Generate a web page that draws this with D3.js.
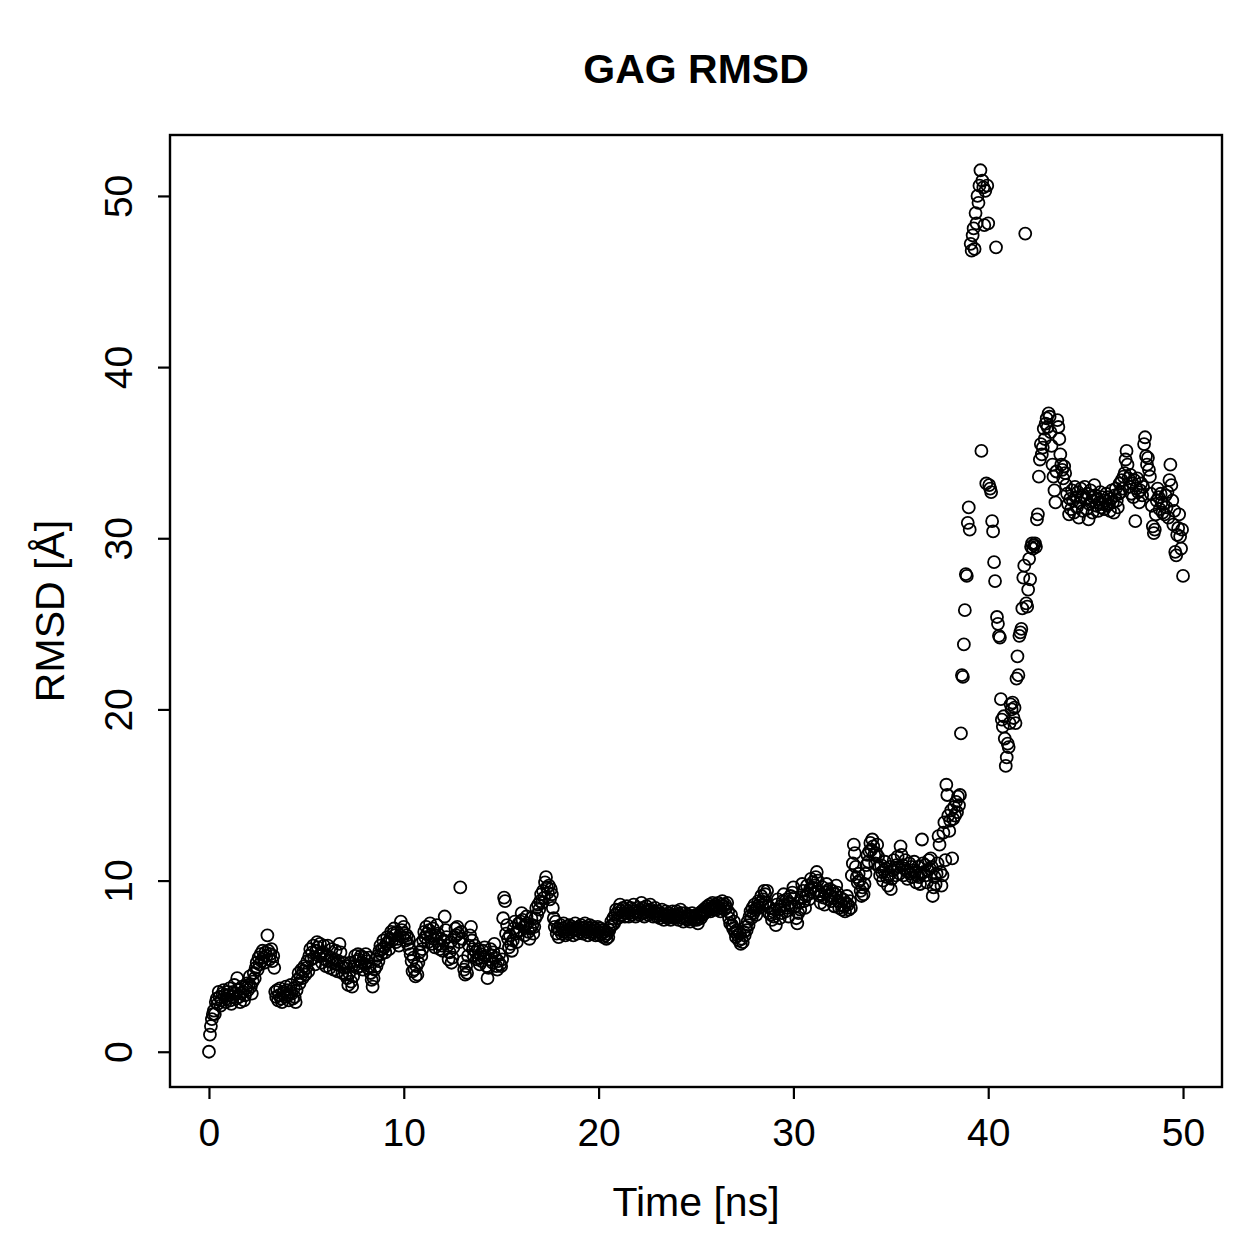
<!DOCTYPE html>
<html>
<head>
<meta charset="utf-8">
<script src="https://cdn.jsdelivr.net/npm/d3@7"></script>
<style>
  body { margin: 0; background: #fff; }
  text { font-family: "Liberation Sans", Arial, Helvetica, sans-serif; }
</style>
</head>
<body>
<div id="chart"></div>
<script>
// RMSD samples, one row per nanosecond, sampled every 0.05 ns
var timeStep = 0.05;

var rmsd00 = [
  [0.0, 1.0, 1.5, 1.9, 2.2, 2.4, 2.2, 2.9, 3.1, 2.8, 3.5, 3.2, 2.7, 3.0, 3.4, 3.6, 3.3, 2.9, 3.1, 3.5],
  [3.3, 3.7, 3.0, 2.8, 3.2, 3.5, 3.9, 3.4, 3.1, 4.3, 3.6, 3.2, 2.9, 3.4, 3.8, 3.5, 3.0, 3.3, 3.7, 4.0],
  [3.6, 3.9, 4.4, 3.8, 3.4, 4.1, 4.6, 4.3, 4.9, 5.2, 4.8, 5.5, 5.1, 5.7, 5.3, 5.9, 5.5, 5.2, 5.8, 5.6],
  [6.8, 5.9, 5.4, 5.7, 6.0, 5.3, 5.6, 4.9, 3.5, 3.2, 3.6, 3.0, 3.3, 3.7, 3.1, 2.9, 3.4, 3.5, 3.2, 3.8],
  [3.6, 3.3, 3.0, 3.5, 3.9, 3.4, 3.1, 3.7, 3.2, 2.9, 3.6, 4.2, 4.6, 4.0, 4.4, 4.8, 4.3, 4.7, 5.0, 4.5],
  [4.9, 5.3, 4.7, 5.6, 6.0, 5.4, 5.8, 6.2, 5.5, 5.1, 5.9, 6.4, 6.1, 5.6, 6.3, 5.7, 5.2, 5.8, 6.2, 5.4],
  [5.0, 5.6, 6.2, 5.3, 4.9, 5.5, 6.0, 5.2, 4.8, 5.4, 5.9, 5.1, 4.7, 5.3, 6.3, 5.8, 5.0, 4.6, 5.2, 4.9],
  [4.5, 5.0, 4.3, 3.9, 4.6, 5.2, 4.1, 3.8, 4.4, 5.0, 5.6, 5.3, 4.9, 5.7, 5.4, 5.0, 5.6, 5.2, 4.8, 5.5],
  [5.1, 5.7, 5.3, 4.9, 5.5, 5.0, 4.6, 4.2, 3.8, 4.3, 4.8, 5.4, 5.0, 5.6, 5.3, 5.9, 6.2, 5.7, 6.0, 6.5],
  [6.1, 5.8, 6.3, 6.7, 6.4, 6.0, 6.6, 7.0, 6.5, 6.9, 7.2, 6.8, 6.4, 7.0, 6.6, 6.2, 6.8, 7.6, 7.1, 6.7]
];

var rmsd10 = [
  [7.3, 6.9, 6.5, 6.8, 6.3, 6.6, 6.0, 5.7, 5.3, 4.7, 5.5, 4.8, 4.4, 5.0, 4.5, 5.2, 5.8, 6.3, 5.6, 6.0],
  [6.5, 7.0, 6.7, 7.3, 6.9, 6.4, 7.1, 7.5, 6.8, 6.3, 7.2, 6.6, 6.1, 6.8, 7.4, 6.9, 6.3, 6.0, 6.6, 6.2],
  [5.9, 6.5, 7.9, 7.1, 6.7, 6.2, 5.4, 5.8, 6.4, 5.2, 5.5, 6.1, 6.7, 7.2, 6.8, 7.3, 6.9, 6.4, 9.6, 7.0],
  [6.6, 5.3, 4.8, 4.5, 5.0, 4.6, 5.6, 6.2, 6.8, 7.3, 6.5, 6.0, 5.6, 6.2, 5.8, 5.4, 6.0, 5.5, 5.1, 5.7],
  [5.3, 5.9, 5.5, 6.1, 5.6, 5.0, 4.3, 4.9, 5.4, 6.0, 5.6, 5.2, 5.8, 6.3, 5.5, 5.0, 4.8, 5.3, 5.7, 5.1],
  [5.0, 5.4, 7.8, 9.0, 8.8, 6.9, 7.4, 6.6, 6.1, 6.8, 6.3, 5.9, 6.5, 7.2, 7.6, 6.9, 6.4, 7.0, 7.5, 7.1],
  [7.6, 8.1, 7.7, 7.3, 6.8, 7.4, 7.9, 7.5, 7.0, 6.6, 7.2, 7.8, 7.4, 6.9, 7.3, 7.8, 8.4, 8.0, 8.6, 8.3],
  [8.8, 9.2, 8.7, 9.4, 9.0, 9.9, 10.2, 9.6, 9.3, 9.7, 8.9, 9.5, 9.2, 8.4, 7.8, 7.3, 7.6, 6.9, 7.2, 6.7],
  [7.1, 7.4, 6.9, 7.2, 7.5, 7.0, 6.8, 7.3, 7.1, 6.9, 7.4, 7.2, 7.0, 7.3, 6.8, 7.1, 7.5, 7.2, 6.9, 7.1],
  [7.3, 7.0, 7.4, 7.2, 6.9, 7.1, 7.5, 7.3, 7.0, 6.8, 7.2, 7.4, 7.1, 6.9, 7.3, 7.0, 7.2, 6.8, 7.1, 7.3]
];

var rmsd20 = [
  [7.0, 6.8, 7.2, 6.9, 7.1, 6.7, 7.0, 6.8, 6.6, 6.9, 6.7, 7.1, 7.3, 7.6, 7.4, 7.8, 7.5, 8.0, 8.3, 8.1],
  [7.8, 8.3, 8.6, 8.2, 8.0, 8.4, 8.1, 7.9, 8.3, 8.5, 8.2, 7.9, 8.1, 8.4, 8.0, 8.3, 8.6, 8.2, 7.9, 8.1],
  [8.4, 8.2, 8.0, 8.3, 8.7, 8.4, 8.1, 7.9, 8.2, 8.5, 8.3, 8.0, 8.2, 8.6, 8.3, 8.1, 7.9, 8.2, 8.4, 8.1],
  [7.9, 8.2, 8.0, 7.8, 8.1, 8.3, 8.0, 7.7, 7.9, 8.2, 8.0, 7.8, 8.1, 7.9, 7.7, 8.0, 8.2, 7.9, 7.8, 8.0],
  [8.2, 7.9, 7.7, 8.0, 8.3, 8.1, 7.8, 7.6, 7.9, 8.1, 7.8, 7.7, 8.0, 7.9, 7.6, 7.8, 8.1, 7.9, 7.7, 7.8],
  [8.0, 7.7, 7.5, 7.9, 8.1, 7.8, 8.2, 8.0, 8.3, 8.1, 8.4, 8.2, 8.5, 8.3, 8.6, 8.2, 8.4, 8.7, 8.3, 8.5],
  [8.6, 8.3, 8.5, 8.7, 8.4, 8.2, 8.6, 8.8, 8.5, 8.3, 8.6, 8.4, 8.7, 8.2, 7.8, 7.5, 8.0, 7.4, 7.2, 7.6],
  [7.0, 6.7, 7.1, 6.8, 6.5, 6.9, 6.3, 6.6, 6.4, 7.0, 6.8, 7.3, 7.1, 7.6, 7.4, 7.9, 8.2, 7.8, 8.4, 8.1],
  [8.6, 8.3, 8.0, 8.5, 8.8, 8.4, 8.7, 9.1, 8.6, 8.9, 9.4, 9.2, 8.7, 9.4, 8.5, 8.1, 8.4, 8.0, 7.7, 8.2],
  [7.9, 8.3, 7.4, 8.6, 8.9, 8.3, 7.8, 8.5, 8.1, 8.8, 9.2, 8.6, 8.2, 8.9, 8.4, 7.9, 8.7, 9.1, 8.5, 9.3]
];

var rmsd30 = [
  [9.6, 9.0, 8.5, 7.8, 7.5, 8.1, 8.7, 8.3, 9.0, 9.8, 9.4, 8.8, 8.4, 9.1, 9.7, 9.2, 8.9, 9.5, 10.1, 9.6],
  [9.9, 9.3, 9.7, 10.2, 10.5, 10.0, 9.4, 9.1, 8.7, 9.2, 9.6, 9.0, 8.6, 9.3, 9.8, 9.4, 8.9, 9.5, 9.1, 8.8],
  [9.4, 9.0, 8.5, 9.2, 9.7, 9.3, 8.8, 8.4, 9.0, 8.6, 8.3, 8.9, 8.5, 8.2, 8.7, 9.1, 8.6, 8.3, 8.8, 8.4],
  [10.3, 11.0, 12.1, 11.6, 10.8, 10.2, 9.9, 10.4, 10.0, 9.4, 9.1, 9.6, 9.2, 9.8, 10.4, 10.9, 11.5, 11.1, 11.7, 12.2],
  [11.8, 12.4, 12.0, 11.5, 11.0, 11.6, 12.1, 11.4, 10.8, 10.3, 10.9, 10.5, 10.0, 10.6, 11.1, 10.7, 10.2, 9.7, 10.3, 10.8],
  [9.5, 10.1, 10.6, 11.2, 10.7, 10.3, 10.9, 11.4, 10.8, 10.4, 12.0, 11.5, 10.9, 10.3, 10.7, 11.2, 10.6, 10.1, 10.5, 11.0],
  [10.4, 10.8, 10.2, 10.6, 11.1, 10.5, 9.9, 10.3, 10.8, 10.2, 9.8, 10.4, 12.4, 11.0, 10.5, 10.9, 10.3, 9.9, 10.6, 11.2],
  [10.7, 11.3, 10.8, 9.1, 9.6, 10.2, 9.8, 10.4, 11.0, 12.6, 12.1, 10.5, 9.7, 10.3, 12.8, 13.4, 11.2, 15.6, 15.0, 13.8],
  [12.9, 13.5, 14.1, 11.3, 13.6, 14.3, 13.8, 14.6, 14.0, 14.9, 14.4, 15.0, 18.6, 22.0, 21.9, 23.8, 25.8, 27.9, 27.8, 30.9],
  [31.8, 30.5, 47.2, 46.8, 47.7, 48.1, 46.9, 49.0, 48.4, 50.0, 49.6, 50.6, 51.5, 35.1, 50.9, 50.5, 48.3, 50.3, 33.2, 50.6]
];

var rmsd40 = [
  [48.4, 33.1, 32.9, 32.7, 31.0, 30.4, 28.6, 27.5, 47.0, 25.4, 25.0, 24.3, 24.2, 20.6, 19.4, 19.0, 19.6, 18.3, 16.7, 17.2],
  [18.0, 17.8, 19.2, 20.3, 20.0, 20.4, 19.5, 20.1, 19.2, 21.8, 23.1, 22.0, 24.3, 24.5, 24.7, 25.9, 27.7, 28.4, 47.8, 26.2],
  [26.0, 27.0, 28.8, 27.6, 29.5, 29.7, 29.4, 29.6, 29.7, 29.5, 31.1, 31.4, 33.6, 34.6, 35.5, 34.9, 35.3, 36.4, 35.8, 36.7],
  [37.0, 36.5, 37.3, 37.1, 36.2, 35.4, 34.3, 33.6, 32.8, 32.1, 33.9, 36.9, 36.5, 35.8, 34.9, 34.3, 34.0, 33.5, 34.2, 33.8],
  [33.1, 32.6, 32.0, 31.4, 32.3, 31.7, 32.8, 32.2, 31.5, 33.0, 32.4, 31.8, 32.7, 31.2, 32.1, 32.9, 32.4, 31.6, 32.5, 33.0],
  [32.3, 31.7, 32.6, 31.1, 32.0, 32.8, 32.2, 31.5, 32.4, 33.1, 32.5, 31.9, 32.3, 31.6, 32.1, 32.7, 31.8, 32.4, 32.0, 31.7],
  [32.2, 32.6, 31.9, 32.4, 32.0, 31.6, 32.3, 32.8, 32.1, 31.5, 32.5, 32.9, 32.2, 31.8, 32.6, 33.2, 32.7, 33.4, 32.9, 33.6],
  [33.8, 34.6, 35.1, 34.3, 33.5, 33.0, 33.7, 32.6, 33.2, 32.4, 33.4, 31.0, 32.9, 33.5, 32.7, 32.1, 32.8, 33.2, 32.5, 33.0],
  [35.5, 35.9, 34.8, 34.3, 34.7, 34.0, 33.6, 32.6, 31.9, 30.7, 30.3, 30.5, 31.4, 32.2, 32.9, 32.4, 31.7, 32.6, 32.1, 31.5],
  [32.0, 31.4, 32.5, 31.8, 32.7, 31.2, 33.4, 34.3, 33.1, 32.2, 30.8, 31.6, 29.2, 29.0, 30.2, 30.6, 31.4, 30.1, 29.4, 30.5],
  [27.8]
];

var xTicks = [0, 10, 20, 30, 40, 50];
var yTicks = [0, 10, 20, 30, 40, 50];

// flatten rows into {t, v} points
var data = [];
rmsd00.concat(rmsd10, rmsd20, rmsd30, rmsd40).forEach(function(row, ns) {
  row.forEach(function(v, j) {
    data.push({ t: ns + j * timeStep, v: v });
  });
});

var svgWidth = 1259;
var svgHeight = 1259;
var box = { left: 170, right: 1222, top: 135, bottom: 1087 };

var svg = d3.select("#chart")
  .append("svg")
  .attr("width", svgWidth)
  .attr("height", svgHeight);

// R style 4% axis padding
function padded(ext) {
  var d = (ext[1] - ext[0]) * 0.04;
  return [ext[0] - d, ext[1] + d];
}

var x = d3.scaleLinear()
  .domain(padded(d3.extent(data, function(d) { return d.t; })))
  .range([box.left, box.right]);
var y = d3.scaleLinear()
  .domain(padded(d3.extent(data, function(d) { return d.v; })))
  .range([box.bottom, box.top]);

var tickFont = 39;
var labelFont = 41;

// points
svg.append("g")
  .selectAll("circle")
  .data(data)
  .enter()
  .append("circle")
  .attr("cx", function(d) { return x(d.t); })
  .attr("cy", function(d) { return y(d.v); })
  .attr("r", 6)
  .attr("fill", "none")
  .attr("stroke", "#000")
  .attr("stroke-width", 1.8);

// axes
var xAxis = svg.append("g")
  .attr("transform", "translate(0," + box.bottom + ")")
  .call(d3.axisBottom(x).tickValues(xTicks).tickSize(12).tickSizeOuter(0).tickPadding(19));
var yAxis = svg.append("g")
  .attr("transform", "translate(" + box.left + ",0)")
  .call(d3.axisLeft(y).tickValues(yTicks).tickSize(12).tickSizeOuter(0));

[xAxis, yAxis].forEach(function(g) {
  g.select(".domain").remove();
  g.selectAll(".tick line").attr("stroke", "#000").attr("stroke-width", 2.2);
  g.selectAll(".tick text")
    .attr("fill", "#000")
    .style("font-size", tickFont + "px")
    .style("font-family", "Liberation Sans, Arial, sans-serif");
});

// y tick labels parallel to the axis
yAxis.selectAll(".tick text")
  .attr("x", null)
  .attr("dy", null)
  .attr("text-anchor", "middle")
  .attr("transform", "translate(-38,0) rotate(-90)");

// frame
svg.append("rect")
  .attr("x", box.left)
  .attr("y", box.top)
  .attr("width", box.right - box.left)
  .attr("height", box.bottom - box.top)
  .attr("fill", "none")
  .attr("stroke", "#000")
  .attr("stroke-width", 2.4);

// title and labels
svg.append("text")
  .attr("x", (box.left + box.right) / 2)
  .attr("y", 83)
  .attr("text-anchor", "middle")
  .style("font-size", "41px")
  .style("font-weight", "bold")
  .text("GAG RMSD");

svg.append("text")
  .attr("x", (box.left + box.right) / 2)
  .attr("y", 1216)
  .attr("text-anchor", "middle")
  .style("font-size", labelFont + "px")
  .text("Time [ns]");

svg.append("text")
  .attr("transform", "translate(64," + (box.top + box.bottom) / 2 + ") rotate(-90)")
  .attr("text-anchor", "middle")
  .style("font-size", labelFont + "px")
  .text("RMSD [Å]");
</script>
</body>
</html>
